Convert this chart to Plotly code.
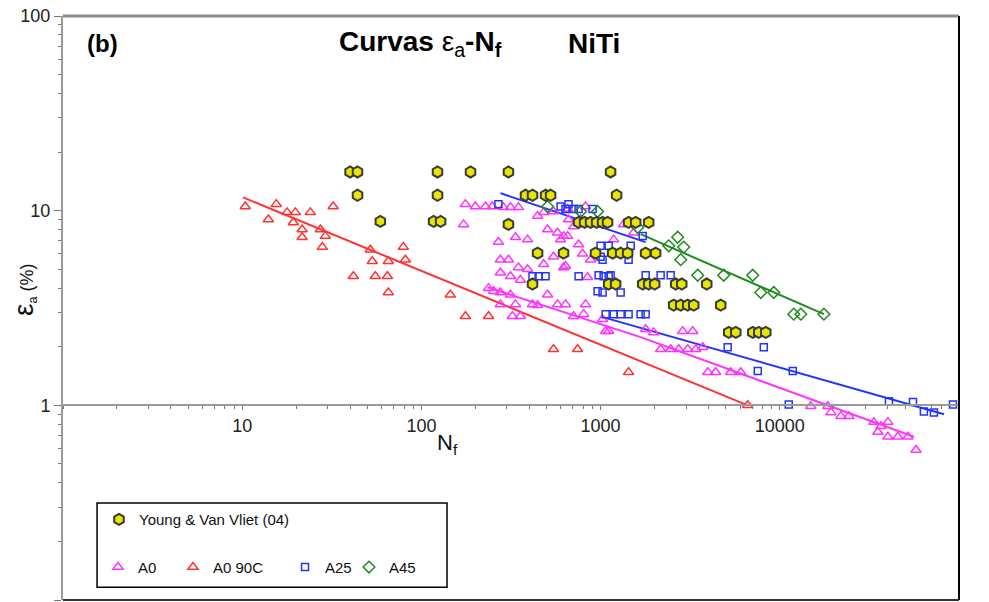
import plotly.graph_objects as go

# ---------------- data ----------------
# Young & Van Vliet (04)
young_n = [40, 44, 123, 188, 306, 1137,
           44, 123, 381, 417, 493, 526, 1228,
           59, 117, 128, 306, 754, 814, 879, 950, 1026, 1094, 1433, 1570, 1855,
           445, 621, 937, 1167, 1294, 1416, 1783, 2029,
           417, 1109, 1213, 1718, 1855, 2004, 2625, 2836, 3911,
           2557, 2800, 3063, 3310, 4680,
           5190, 5680, 7070, 7630, 8350]
young_e = [15.8, 15.8, 15.8, 15.8, 15.8, 15.8,
           12.0, 12.0, 12.0, 12.0, 12.0, 12.0, 12.0,
           8.8, 8.8, 8.8, 8.5, 8.7, 8.7, 8.7, 8.7, 8.7, 8.7, 8.7, 8.7, 8.7,
           6.05, 6.05, 6.05, 6.05, 6.05, 6.05, 6.05, 6.05,
           4.2, 4.2, 4.2, 4.2, 4.2, 4.2, 4.2, 4.2, 4.2,
           3.27, 3.27, 3.27, 3.27, 3.27,
           2.37, 2.37, 2.37, 2.37, 2.37]

# A0
a0_n = [176, 200, 228, 249, 287, 314, 348, 172, 445, 481, 546, 506, 575, 654,
        598, 707, 773, 662, 269, 335, 391, 276, 306, 348, 391, 481, 546, 621,
        754, 276, 314, 357, 237, 253, 276, 314, 506, 276, 335, 417, 445, 575,
        637, 824, 322, 357, 707, 804, 1109, 824, 654, 621, 793, 879, 637, 846,
        1026, 1067, 1784, 2871, 3266, 1343, 1183, 1528, 1977, 2163, 2460, 2729,
        3063, 3396, 3715, 3963, 4385, 5321, 6053, 14890, 18540, 19280, 21930,
        24290, 33500, 36640, 40100, 35250, 40100, 45620, 51880, 57540]
a0_e = [10.8, 10.5, 10.5, 10.5, 10.4, 10.4, 10.4, 8.5, 9.4, 9.8, 9.9, 8.0, 7.7, 7.4,
        7.1, 8.3, 9.0, 9.0, 6.9, 7.3, 7.1, 5.6, 5.6, 5.1, 5.0, 5.3, 5.8, 5.1,
        6.7, 4.8, 4.6, 4.4, 4.0, 3.86, 3.8, 3.7, 3.7, 3.3, 3.3, 3.3, 3.27, 3.3,
        3.3, 3.3, 2.87, 2.87, 2.87, 2.94, 2.4, 10.5, 10.2, 7.4, 6.0, 5.6, 5.2, 4.55,
        2.77, 2.4, 2.46, 2.4, 2.4, 8.5, 7.1, 7.7, 2.37, 1.94, 1.94, 1.94,
        1.94, 1.94, 1.99, 1.48, 1.48, 1.48, 1.48, 0.99, 0.99, 0.92, 0.88,
        0.88, 0.82, 0.78, 0.82, 0.73, 0.69, 0.69, 0.69, 0.59]

# A0 90C
a090_n = [10.4, 14.0, 15.5, 17.8, 19.8, 21.6, 21.6, 24.0, 19.3, 27.3, 28.0, 29.1,
          32.2, 51.9, 53.2, 65.4, 41.7, 55.3, 64.6, 65.4, 79.3, 81.4, 145, 176,
          237, 546, 744, 1433, 6620]
a090_e = [10.5, 9.0, 10.8, 9.8, 9.8, 8.0, 7.3, 9.8, 8.7, 8.0, 6.5, 7.4,
          10.5, 6.3, 5.5, 5.5, 4.6, 4.6, 4.6, 3.8, 6.5, 5.6, 3.7, 2.87,
          2.87, 1.94, 1.94, 1.48, 1.0]

# A25
a25_n = [269, 598, 662, 754, 637, 707, 902, 417, 451, 493, 754, 1000, 1040, 1109,
         962, 1294, 1067, 1183, 1294, 1433, 1672, 1718, 1000, 1109, 1472, 1026,
         1433, 975, 1137, 1784, 2163, 2460, 1026, 1784, 5117, 8143, 7535, 11820,
         11220, 40640, 55340, 63680, 72450, 92540]
a25_e = [10.8, 10.5, 10.8, 10.2, 10.2, 10.2, 10.2, 4.6, 4.6, 4.6, 4.6, 5.8, 4.6, 4.6,
         3.86, 3.8, 2.94, 2.94, 2.94, 2.94, 2.94, 7.4, 6.6, 6.6, 6.6, 5.6,
         5.6, 4.66, 4.66, 4.66, 4.66, 4.66, 3.8, 2.94, 1.99, 1.99, 1.5, 1.5,
         1.01, 1.05, 1.04, 0.93, 0.92, 1.01]

# A45
a45_n = [962, 506, 773, 2692, 2909, 2399, 2800, 3483, 4864, 7063, 7834, 9254,
         11970, 13100, 17620, 1610]
a45_e = [9.9, 10.5, 9.9, 7.3, 6.5, 6.6, 5.6, 4.66, 4.66, 4.66, 3.8, 3.8,
         2.94, 2.94, 2.94, 8.2]

# fitted trend lines
fit_a090_n = [10.1, 6620]
fit_a090_e = [11.7, 1.0]
fit_a0_n = [234, 1672, 56100]
fit_a0_e = [4.04, 2.24, 0.69]
fit_a25_hi_n = [276, 1784]
fit_a25_hi_e = [12.3, 6.89]
fit_a25_lo_n = [1040, 82500]
fit_a25_lo_e = [2.83, 0.90]
fit_a45_n = [1672, 17620]
fit_a45_e = [7.57, 2.94]

x_tickvals = [10, 100, 1000, 10000, 100000]
x_ticktext = ["10", "100", "1000", "10000", "100000"]
y_tickvals = [0.1, 1, 10, 100]
y_ticktext = ["0,1", "1", "10", "100"]

# ---------------- figure ----------------
FONT = "Liberation Sans, Arial, sans-serif"
MAG = "#FF33FF"
RED = "#FF3333"
BLUE = "#2233FF"
GREEN = "#1E8C1E"

fig = go.Figure()

def line(nx, ey, color):
    fig.add_trace(go.Scatter(x=nx, y=ey, mode="lines", showlegend=False,
                             line=dict(color=color, width=2), hoverinfo="skip"))

line(fit_a090_n, fit_a090_e, RED)
line(fit_a0_n, fit_a0_e, MAG)
line(fit_a25_hi_n, fit_a25_hi_e, BLUE)
line(fit_a25_lo_n, fit_a25_lo_e, BLUE)
line(fit_a45_n, fit_a45_e, GREEN)

fig.add_trace(go.Scatter(x=a0_n, y=a0_e, mode="markers", name="A0", legend="legend2",
                         marker=dict(symbol="triangle-up-open", size=9,
                                     color=MAG, line=dict(width=1.5))))
fig.add_trace(go.Scatter(x=a090_n, y=a090_e, mode="markers", name="A0 90C", legend="legend3",
                         marker=dict(symbol="triangle-up-open", size=9,
                                     color=RED, line=dict(width=1.5))))
fig.add_trace(go.Scatter(x=a25_n, y=a25_e, mode="markers", name="A25", legend="legend4",
                         marker=dict(symbol="square-open", size=7,
                                     color=BLUE, line=dict(width=1.5))))
fig.add_trace(go.Scatter(x=a45_n, y=a45_e, mode="markers", name="A45", legend="legend5",
                         marker=dict(symbol="diamond-open", size=9,
                                     color=GREEN, line=dict(width=1.5))))
fig.add_trace(go.Scatter(x=young_n, y=young_e, mode="markers",
                         name="Young & Van Vliet (04)", legend="legend",
                         marker=dict(symbol="hexagon", size=11, color="#E6E600",
                                     line=dict(color="#3a3a3a", width=2))))

def leg(xpix, ypaper, anchor):
    return dict(x=(xpix - 63) / 896, y=ypaper, xanchor="left", yanchor=anchor,
                bgcolor="rgba(0,0,0,0)", borderwidth=0,
                font=dict(size=15, family=FONT, color="#111"))

fig.update_layout(
    width=989, height=602,
    margin=dict(l=63, r=30, t=16, b=2),
    paper_bgcolor="white", plot_bgcolor="white",
    font=dict(family=FONT, size=15, color="#111"),
    xaxis=dict(type="log", range=[0, 5], anchor="free", position=1/3,
               showgrid=False, zeroline=False,
               showline=True, linecolor="#9a9a9a", linewidth=2,
               tickvals=x_tickvals, ticktext=x_ticktext,
               ticks="outside", ticklen=4, tickcolor="#777", tickwidth=1,
               tickfont=dict(size=18, color="#222"),
               minor=dict(dtick="D1", ticks="outside", ticklen=3,
                          tickcolor="#777", tickwidth=1, showgrid=False)),
    yaxis=dict(type="log", range=[-1, 2],
               showgrid=False, zeroline=False,
               showline=True, linecolor="#9a9a9a", linewidth=2,
               tickvals=y_tickvals, ticktext=y_ticktext,
               ticks="outside", ticklen=7, tickcolor="#777", tickwidth=1,
               tickfont=dict(size=18, color="#222"),
               minor=dict(dtick="D1", ticks="outside", ticklen=3,
                          tickcolor="#777", tickwidth=1, showgrid=False)),
    legend=leg(99, 0.166, "top"),
    legend2=leg(98, 0.056, "middle"),
    legend3=leg(173, 0.056, "middle"),
    legend4=leg(285, 0.056, "middle"),
    legend5=leg(349, 0.056, "middle"),
    shapes=[
        dict(type="line", xref="paper", yref="paper", x0=0, x1=1, y0=1, y1=1,
             line=dict(color="#8c8c8c", width=3)),
        dict(type="line", xref="paper", yref="paper", x0=1, x1=1, y0=0, y1=1,
             line=dict(color="#000", width=2)),
        dict(type="line", xref="paper", yref="paper", x0=0, x1=1, y0=0, y1=0,
             line=dict(color="#333", width=2)),
        dict(type="rect", xref="paper", yref="paper", x0=0.038, x1=0.4286,
             y0=0.022, y1=0.166, line=dict(color="#000", width=1.5)),
    ],
    annotations=[
        dict(text="<b>(b)</b>", xref="paper", yref="paper", x=(85 - 63) / 896,
             y=(600 - 44) / 584, xanchor="left", yanchor="middle", showarrow=False,
             font=dict(size=24, family=FONT, color="#000")),
        dict(text="<b>Curvas </b>ε<sub>a</sub><b>-N<sub>f</sub></b>",
             xref="paper", yref="paper",
             x=(337 - 63) / 896, y=(600 - 44) / 584, xanchor="left", yanchor="middle",
             showarrow=False, font=dict(size=28, family=FONT, color="#000")),
        dict(text="<b>NiTi</b>", xref="paper", yref="paper",
             x=(566 - 63) / 896, y=(600 - 44) / 584, xanchor="left", yanchor="middle",
             showarrow=False, font=dict(size=28, family=FONT, color="#000")),
        dict(text="N<sub>f</sub>", xref="paper", yref="paper",
             x=(447 - 63) / 896, y=(600 - 444) / 584, xanchor="center", yanchor="middle",
             showarrow=False, font=dict(size=22, family=FONT, color="#111")),
        dict(text="<span style='font-size:28px'>ε</span><sub>a</sub> (%)",
             xref="paper", yref="paper", textangle=-90,
             x=(24 - 63) / 896, y=(600 - 290) / 584, xanchor="center", yanchor="middle",
             showarrow=False, font=dict(size=18, family=FONT, color="#111")),
    ],
)

fig.write_html("out.html")
